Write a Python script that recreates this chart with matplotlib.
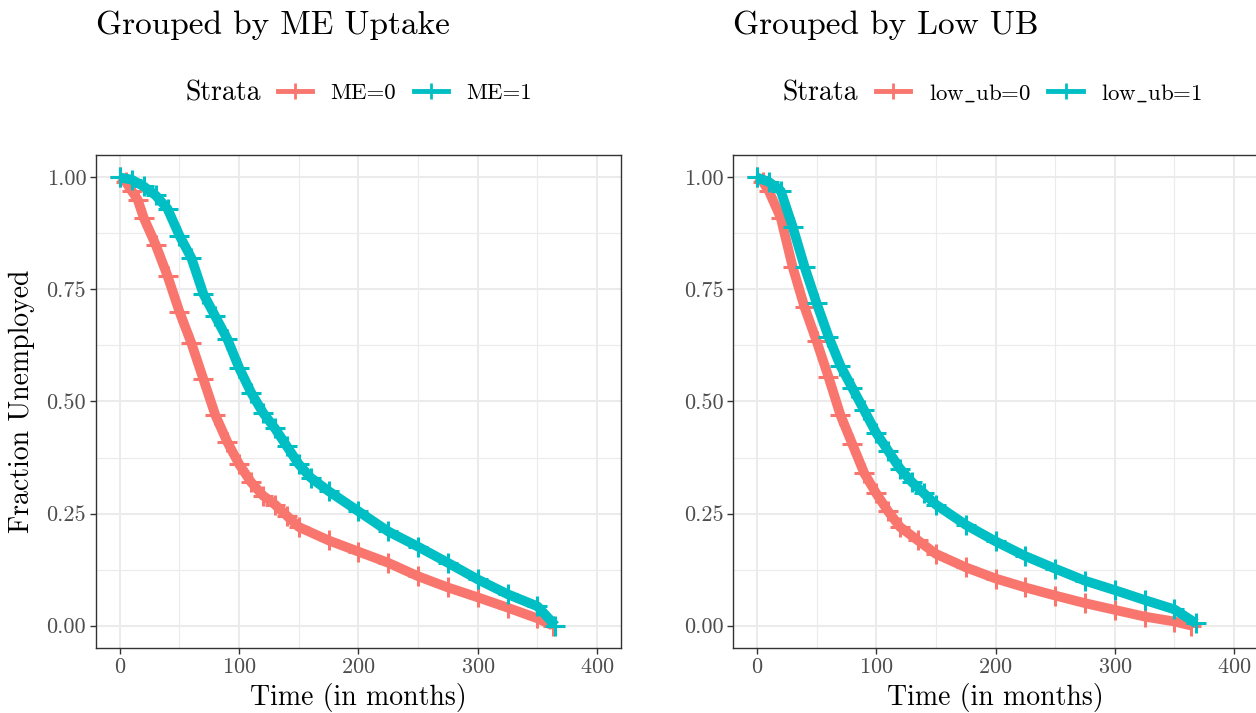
import matplotlib.pyplot as plt
from matplotlib.lines import Line2D

plt.rcParams['font.family'] = ['cmr10', 'DejaVu Serif']
plt.rcParams['mathtext.fontset'] = 'cm'
plt.rcParams['axes.formatter.use_mathtext'] = True

# ME uptake, survival
me0_t = [0, 5, 10, 15, 20, 30, 40, 50, 60, 70, 80, 90, 100, 110, 120, 130, 140,
         150, 175, 200, 225, 250, 275, 300, 325, 350, 363]
me0_s = [1.0, 0.99, 0.97, 0.95, 0.91, 0.85, 0.78, 0.70, 0.63, 0.55, 0.47, 0.41,
         0.36, 0.32, 0.29, 0.27, 0.245, 0.22, 0.19, 0.165, 0.14, 0.11, 0.085,
         0.063, 0.04, 0.016, 0.0]
me1_t = [0, 10, 20, 30, 40, 50, 60, 70, 80, 90, 100, 110, 120, 130, 140, 150,
         160, 175, 200, 225, 250, 275, 300, 325, 350, 365]
me1_s = [1.0, 0.995, 0.98, 0.96, 0.93, 0.87, 0.82, 0.74, 0.69, 0.64, 0.575,
         0.52, 0.475, 0.44, 0.40, 0.36, 0.33, 0.30, 0.255, 0.21, 0.176, 0.14,
         0.103, 0.07, 0.043, 0.0]

# low UB, survival
ub0_t = [0, 5, 10, 20, 30, 40, 50, 60, 70, 80, 90, 100, 110, 120, 135, 150,
         175, 200, 225, 250, 275, 300, 325, 350, 364]
ub0_s = [1.0, 0.99, 0.97, 0.91, 0.80, 0.71, 0.635, 0.555, 0.47, 0.405, 0.34,
         0.295, 0.255, 0.22, 0.19, 0.16, 0.13, 0.105, 0.085, 0.067, 0.05,
         0.035, 0.02, 0.009, 0.0]
ub1_t = [0, 10, 20, 30, 40, 50, 60, 70, 80, 90, 100, 110, 120, 130, 140, 150,
         175, 200, 225, 250, 275, 300, 325, 350, 368]
ub1_s = [1.0, 0.99, 0.97, 0.89, 0.80, 0.72, 0.645, 0.58, 0.53, 0.48, 0.43,
         0.39, 0.35, 0.32, 0.295, 0.27, 0.225, 0.188, 0.155, 0.127, 0.10,
         0.079, 0.057, 0.036, 0.005]

red = '#F8766D'
cyan = '#00BFC4'

panels = [
    ('Grouped by ME Uptake', ['ME=0', 'ME=1'], [(me0_t, me0_s), (me1_t, me1_s)]),
    ('Grouped by Low UB', [r'low$\_$ub=0', r'low$\_$ub=1'], [(ub0_t, ub0_s), (ub1_t, ub1_s)]),
]

fig = plt.figure(figsize=(12.56, 7.13), dpi=100)
lefts = [0.0764, 0.5836]
strata_x = [0.1473, 0.6234]
legend_x = [0.2213, 0.6975]

for i, (title, labels, curves) in enumerate(panels):
    ax = fig.add_axes([lefts[i], 0.0912, 0.418, 0.6914])
    ax.set_xlim(-20, 420)
    ax.set_ylim(-0.05, 1.05)
    ax.set_xticks([0, 100, 200, 300, 400])
    ax.set_xticks([50, 150, 250, 350], minor=True)
    ax.set_yticks([0, 0.25, 0.5, 0.75, 1.0])
    ax.set_yticklabels(['0.00', '0.25', '0.50', '0.75', '1.00'])
    ax.set_yticks([0.125, 0.375, 0.625, 0.875], minor=True)
    ax.grid(True, which='major', color='#EBEBEB', lw=1.5)
    ax.grid(True, which='minor', color='#EBEBEB', lw=0.8)
    ax.set_axisbelow(True)
    ax.tick_params(which='major', length=4, width=1, color='#333333',
                   labelsize=16, labelcolor='#4D4D4D', pad=3)
    ax.tick_params(which='minor', length=0)
    for sp in ax.spines.values():
        sp.set_color('#333333')
        sp.set_linewidth(1.0)

    for (t, s), c in zip(curves, [red, cyan]):
        ax.plot(t, s, color=c, lw=7, solid_joinstyle='round',
                solid_capstyle='butt', zorder=3)
        ax.plot(t, s, '+', color=c, ms=14, mew=2.2, zorder=3)

    ax.set_xlabel('Time (in months)', fontsize=20, va='center')
    ax.xaxis.set_label_coords(0.5, -0.0995)
    if i == 0:
        ax.set_ylabel('Fraction Unemployed', fontsize=20, va='center')
        ax.yaxis.set_label_coords(-0.1409, 0.5)

    fig.text(lefts[i], 0.965, title, fontsize=24, va='center', ha='left')
    fig.text(strata_x[i], 0.8696, 'Strata', fontsize=20, va='center', ha='left')
    handles = [Line2D([0], [0], color=c, lw=3.5, marker='+', ms=11, mew=2)
               for c in [red, cyan]]
    fig.legend(handles, labels, loc='center left',
               bbox_to_anchor=(legend_x[i], 0.8696), ncol=2, frameon=False,
               fontsize=16.5, borderpad=0, borderaxespad=0, handlelength=1.5,
               handletextpad=0.8, columnspacing=0.76)

fig.savefig('out.png', dpi=100)
